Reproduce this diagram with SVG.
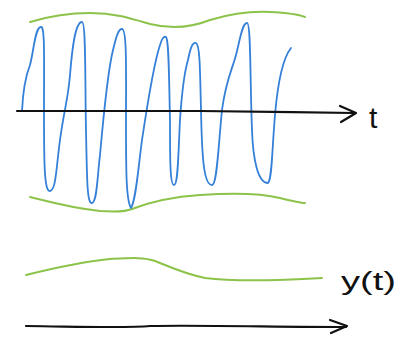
<svg xmlns="http://www.w3.org/2000/svg" width="402" height="346" viewBox="0 0 402 346">
<style>
.blue{fill:none;stroke:#3580d8;stroke-width:1.8;stroke-linecap:round;stroke-linejoin:round}
.green{fill:none;stroke:#8cc34a;stroke-width:2;stroke-linecap:round}
.ink{fill:none;stroke:#111;stroke-width:2.2;stroke-linecap:round;stroke-linejoin:round}
.lbl{font-family:"Liberation Sans",sans-serif;fill:#111}
</style>
<rect width="402" height="346" fill="#fff"/>
<path class="green" d="M30,22 C50,16 70,13 90,13 C115,13 130,18 150,24 C170,29 190,28 210,20 C230,14 250,11 270,12 C290,13 300,15 305,17"/>
<path class="green" d="M30,197 C50,202 70,208 100,211 C115,212 125,212 132,209 C150,202 170,197 200,195 C230,193 260,193 280,198 C292,201 300,203 305,203"/>
<path class="blue" d="M22,111 C23,90 26,75 30,65 C34,50 35,27 41,27 C45,26 44,60 44,110 C44,160 44,192 50,191 C56,190 56,170 60,140 C64,110 68,100 70,75 C72,50 75,22 82,22 C86,22 85,80 86,130 C87,180 87,204 92,203 C97,202 97,180 100,155 C104,110 108,70 113,50 C116,38 118,29 122,29 C127,29 126,70 126,120 C126,170 126,200 131,208 C136,200 138,170 142,140 C148,100 155,60 160,45 C162,38 164,36 166,37 C169,40 169,80 170,120 C170,160 170,185 174,185 C178,185 178,160 180,120 C182,90 185,70 188,60 C190,50 192,42 196,43 C200,45 200,70 201,110 C202,160 204,185 212,185 C217,185 218,150 222,110 C226,80 232,70 236,55 C240,40 242,23 247,23 C251,23 250,80 252,130 C253,160 258,183 268,183 C272,180 272,150 275,115 C278,80 283,58 291,48"/>
<path class="ink" d="M17,111 L200,111 C260,112 300,112 354,113"/>
<path class="ink" d="M340,106 L356,113 L341,122"/>
<text class="lbl" x="369" y="128" font-size="30">t</text>
<path class="green" d="M26,275 C50,269 80,262 110,259 C130,258 145,257 155,261 C170,267 185,274 205,278 C230,281 270,281 322,278"/>
<text class="lbl" x="341" y="290" font-size="26" textLength="55" lengthAdjust="spacingAndGlyphs">y(t)</text>
<path class="ink" d="M26,326 C100,327 130,328 150,326 C200,325 280,327 346,327"/>
<path class="ink" d="M330,320 L347,326 L331,333"/>
</svg>
